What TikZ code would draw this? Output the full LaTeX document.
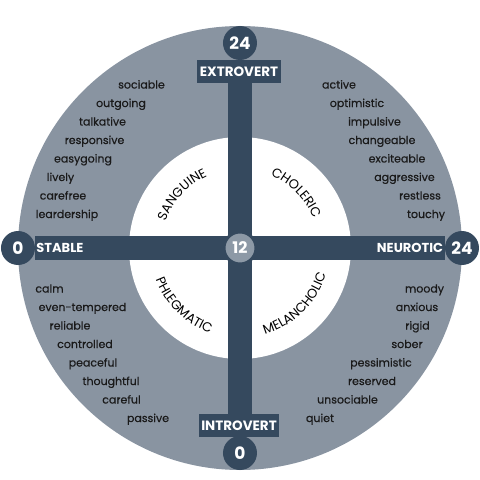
\documentclass[tikz,border=0pt]{standalone}
\usepackage{fontspec}
\setmainfont{Poppins}
\newfontfamily\traitfont[FakeBold=0.5]{Poppins}
\usepackage{tikz}
\usetikzlibrary{decorations.text}
\definecolor{my_navy}{HTML}{35495E}
\definecolor{my_grey}{HTML}{8994A1}
\definecolor{my_hub}{HTML}{8D99A6}
\definecolor{my_ink}{HTML}{1A1A1A}
\newcommand{\typefont}{\fontsize{13}{13}\selectfont}

\begin{document}
\begin{tikzpicture}[
    x=1pt, y=1pt,
    endcap/.style={circle, fill=my_navy, minimum size=34pt, inner sep=0pt,
                   text=white, font=\fontsize{17}{17}\selectfont\bfseries},
    axisbox/.style={fill=my_navy, minimum height=23pt, inner sep=0pt,
                    text=white, font=\fontsize{13.5}{13.5}\selectfont\bfseries},
    axislabel/.style={text=white, font=\fontsize{13}{13}\selectfont\bfseries},
    bar/.style={my_navy, line width=24pt},
    trait/.style={text=my_ink, anchor=base, inner sep=0pt,
                  font=\traitfont\fontsize{11}{11}\selectfont}
]
\useasboundingbox (-240, -232) rectangle (240, 248);

% -------- Rings ---------------------------------------------
\fill[my_grey] (0, 0) circle (222);
\fill[white]   (0, 0) circle (111);

% -------- Axis ends -----------------------------------------
\node[endcap] (top)    at (0, 205)    {24};
\node[endcap] (bottom) at (0, -205)   {0};
\node[endcap] (left)   at (-222, 0)   {0};
\node[endcap] (right)  at (222, 0)    {24};

% Bars between the ends
\draw[bar] (top) -- (bottom);
\draw[bar] (left) -- (right);

% -------- Axis labels ---------------------------------------
\node[axisbox, minimum width=84pt] (extro) at (-1, 176.5)  {EXTROVERT};
\node[axisbox, minimum width=80pt] (intro) at (-1, -177.5) {INTROVERT};
\node[axislabel] (stable)   at (-180, 0) {STABLE};
\node[axislabel] (neurotic) at (170, 0)  {NEUROTIC};

% Centre value
\node[circle, fill=my_hub, draw=my_navy, line width=3pt, minimum size=32pt,
      inner sep=0pt, text=white, font=\fontsize{16}{16}\selectfont\bfseries]
    (hub) at (0, 0) {12};

% -------- Temperaments (set along the inner circle) ---------
\path[decorate, decoration={text along path, text align=center,
      text={|\typefont|SANGUINE}}]
    (180:79) arc[start angle=180, end angle=95, radius=79];
\path[decorate, decoration={text along path, text align=center,
      text={|\typefont|CHOLERIC}}]
    (87:79) arc[start angle=87, end angle=2, radius=79];
\path[decorate, decoration={text along path, text align=center,
      text={|\typefont|PHLEGMATIC}}]
    (183:90) arc[start angle=183, end angle=268, radius=90];
\path[decorate, decoration={text along path, text align=center,
      text={|\typefont|MELANCHOLIC}}]
    (272:90) arc[start angle=272, end angle=357, radius=90];

% -------- Traits --------------------------------------------
% upper left (sanguine)
\foreach \word/\x [count=\i from 0] in {sociable/-98.5, outgoing/-119,
        talkative/-137.5, responsive/-145.5, easygoing/-157, lively/-179.5,
        carefree/-177, leardership/-173}
    \node[trait] (sa\i) at (\x, 159.5 - 18.5*\i) {\word};
% upper right (choleric)
\foreach \word/\x [count=\i from 0] in {active/99, optimistic/117,
        impulsive/134.5, changeable/142, exciteable/157, aggressive/164.5,
        restless/180, touchy/186}
    \node[trait] (ch\i) at (\x, 159.5 - 18.5*\i) {\word};
% lower left (phlegmatic)
\foreach \word/\x [count=\i from 0] in {calm/-190.5, even-tempered/-157.5,
        reliable/-170, controlled/-155, peaceful/-147, thoughtful/-129,
        careful/-118.5, passive/-92}
    \node[trait] (ph\i) at (\x, -44.5 - 18.5*\i) {\word};
% lower right (melancholic)
\foreach \word/\x [count=\i from 0] in {moody/184.5, anxious/177,
        rigid/177.5, sober/167, pessimistic/141, reserved/132,
        unsociable/107.5, quiet/80}
    \node[trait] (me\i) at (\x, -44.5 - 18.5*\i) {\word};

\end{tikzpicture}
\end{document}
